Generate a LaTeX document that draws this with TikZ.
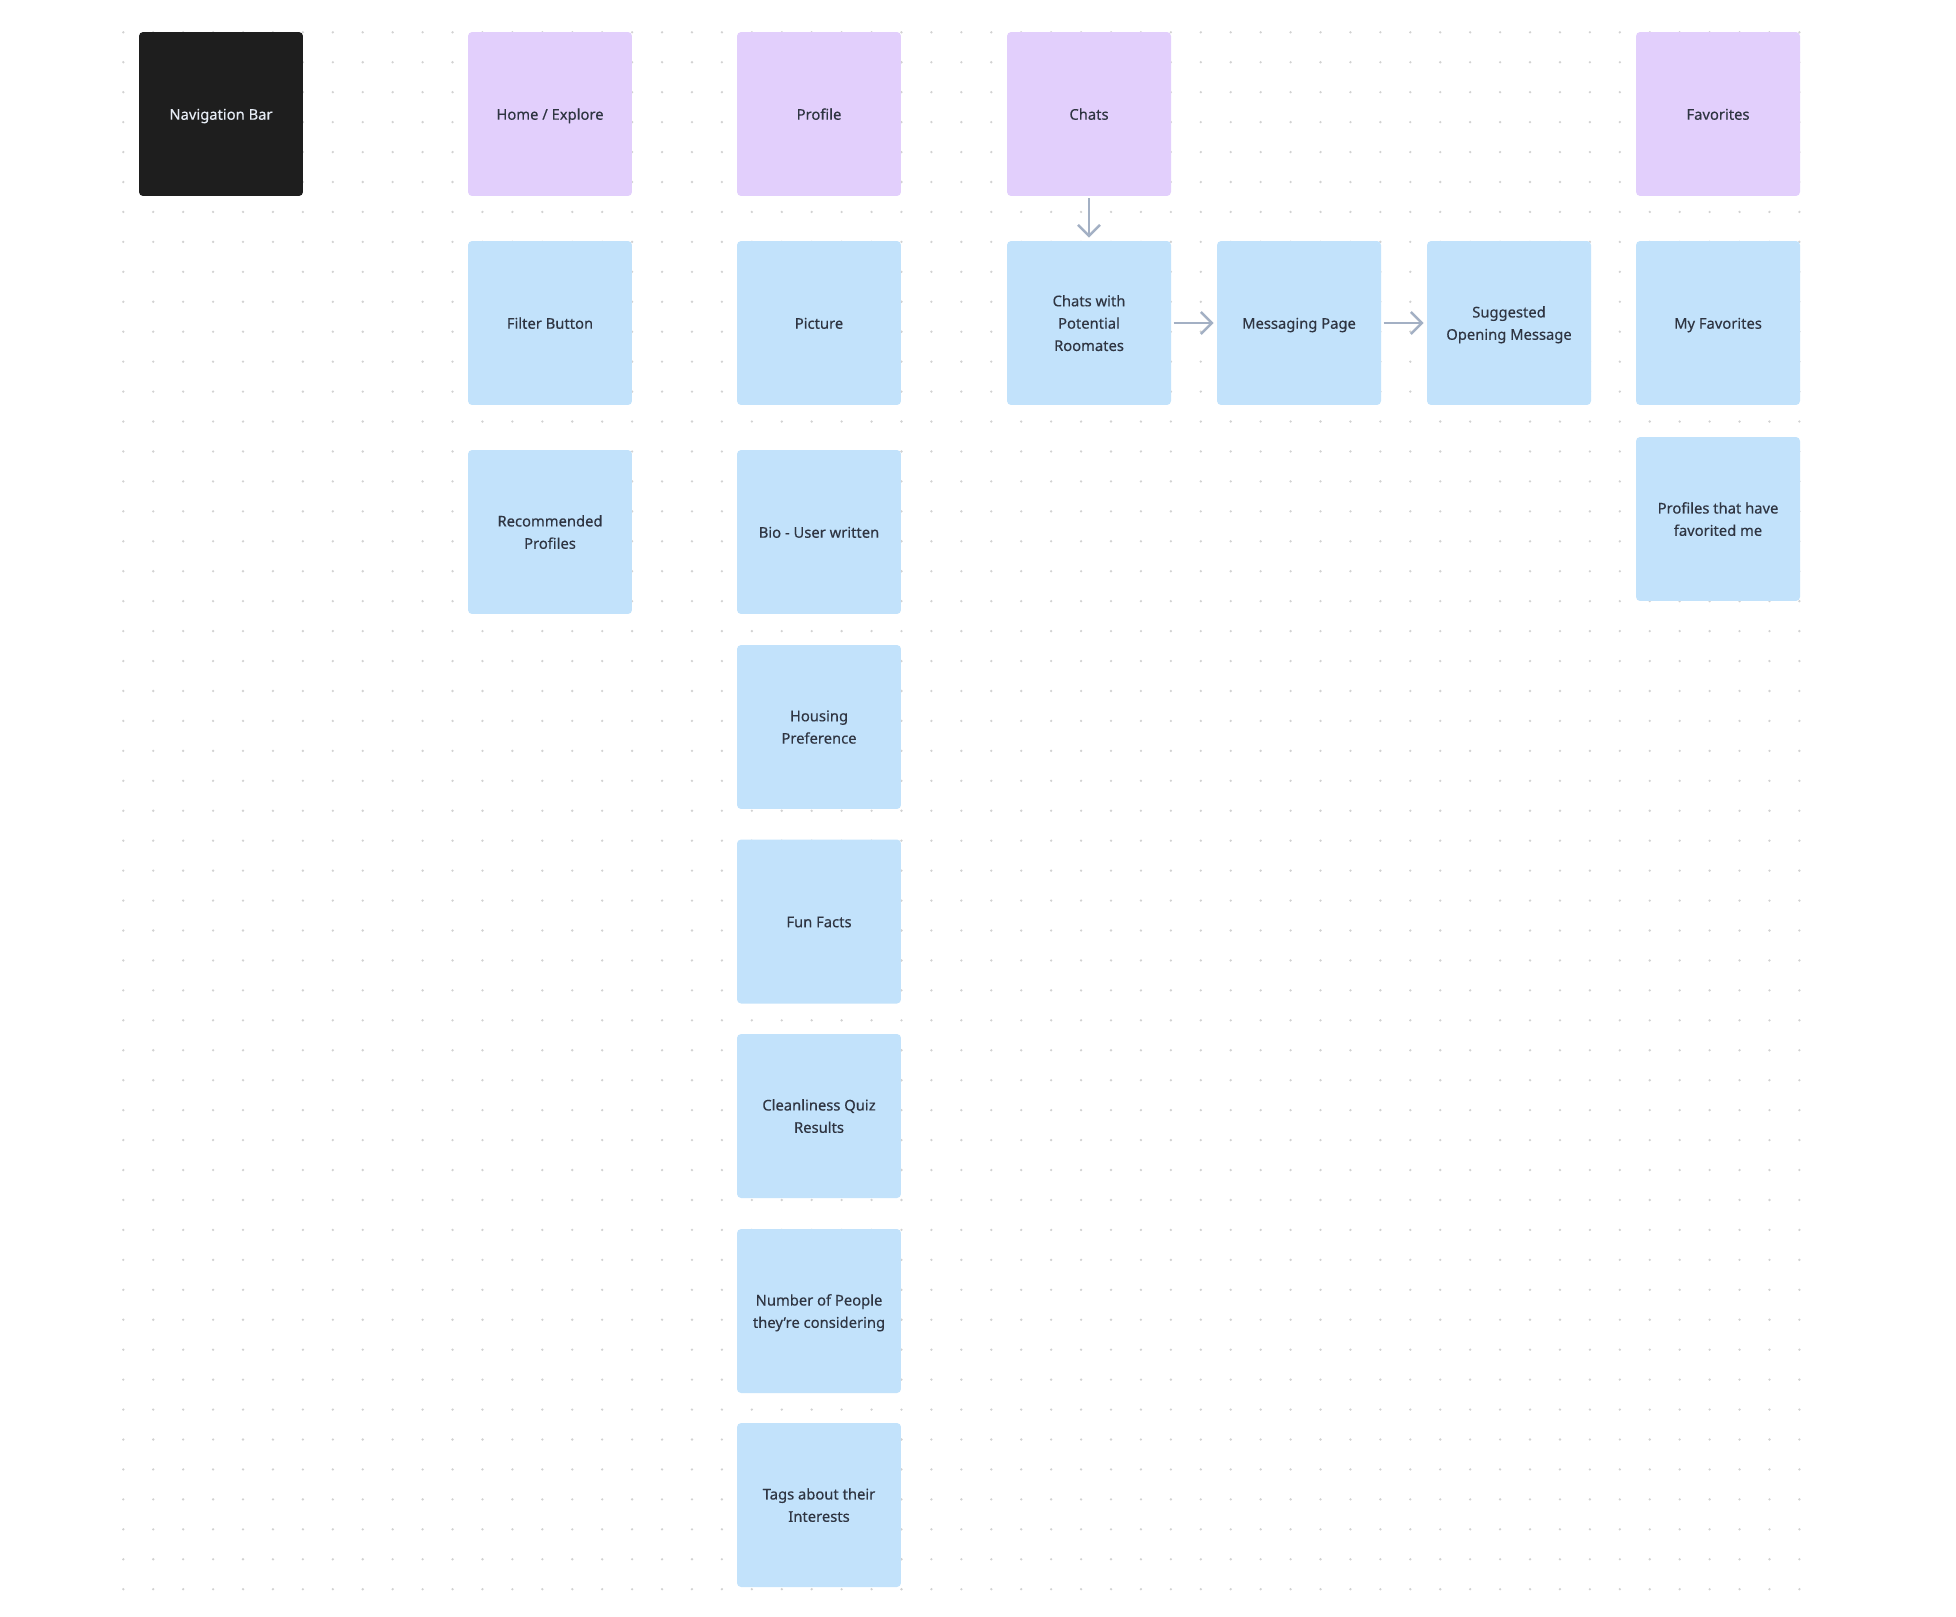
\documentclass[tikz,border=0pt]{standalone}
\usepackage{fontspec}
\setmainfont{Noto Sans}[FakeBold=0.35]
\usepackage{tikz}
\usetikzlibrary{arrows.meta}
\definecolor{navfill}{HTML}{1E1E1E}
\definecolor{tabfill}{HTML}{E2CFFC}
\definecolor{itemfill}{HTML}{C2E2FB}
\definecolor{notetext}{HTML}{2F3542}
\definecolor{navtext}{HTML}{E6ECF5}
\definecolor{griddot}{HTML}{D2D2D2}
\definecolor{flowline}{HTML}{A3B0C4}

\begin{document}
\begin{tikzpicture}[x=0.02cm, y=-0.02cm, font=\fontsize{8.4pt}{12.7pt}\selectfont]
		\tikzset{sticky/.style={rectangle, rounded corners=0.08cm, minimum size=3.28cm, inner sep=0pt, outer sep=0pt, align=center, text=notetext, text depth=0pt, execute at begin node=\rule{0pt}{6.5pt}}}
		\tikzset{navnote/.style={sticky, fill=navfill, text=navtext}}
		\tikzset{tabnote/.style={sticky, fill=tabfill}}
		\tikzset{itemnote/.style={sticky, fill=itemfill}}
		\tikzset{flow/.style={draw=flowline, line width=1.4pt, -{Straight Barb[length=0.22cm, width=0.44cm, line width=1.4pt]}, shorten <=0.05cm, shorten >=0.07cm}}
		\useasboundingbox (0,0) rectangle (1956,1616);
		% dot grid
		\foreach \i in {0,...,56}
			\foreach \j in {0,...,52}
				\fill[griddot] (123.3+29.93*\i, 32.3+29.94*\j) circle (1.3);
		% top row: tabs
		\node[navnote] (nav) at (221,114) {Navigation Bar};
		\node[tabnote] (home) at (550,114) {Home / Explore};
		\node[tabnote] (profile) at (819,114) {Profile};
		\node[tabnote] (chats) at (1089,114) {Chats};
		\node[tabnote] (fav) at (1718,114) {Favorites};
		% home column
		\node[itemnote] (filter) at (550,323) {Filter Button};
		\node[itemnote] (recprof) at (550,532) {Recommended\\Profiles};
		% profile column
		\node[itemnote] (picture) at (819,323) {Picture};
		\node[itemnote] (bio) at (819,532) {Bio - User written};
		\node[itemnote] (housing) at (819,727) {Housing\\Preference};
		\node[itemnote] (funfacts) at (819,921.5) {Fun Facts};
		\node[itemnote] (clean) at (819,1116) {Cleanliness Quiz\\Results};
		\node[itemnote] (people) at (819,1311) {Number of People\\they’re considering};
		\node[itemnote] (tags) at (819,1505) {Tags about their\\Interests};
		% chats row
		\node[itemnote] (chatsrm) at (1089,323) {Chats with\\Potential\\Roomates};
		\node[itemnote] (msg) at (1299,323) {Messaging Page};
		\node[itemnote] (sugg) at (1509,323) {Suggested\\Opening Message};
		% favorites column
		\node[itemnote] (myfav) at (1718,323) {My Favorites};
		\node[itemnote] (favme) at (1718,519) {Profiles that have\\favorited me};
		\draw[flow] (chats) -- (chatsrm);
		\draw[flow] (chatsrm) -- (msg);
		\draw[flow] (msg) -- (sugg);
	\end{tikzpicture}
\end{document}
